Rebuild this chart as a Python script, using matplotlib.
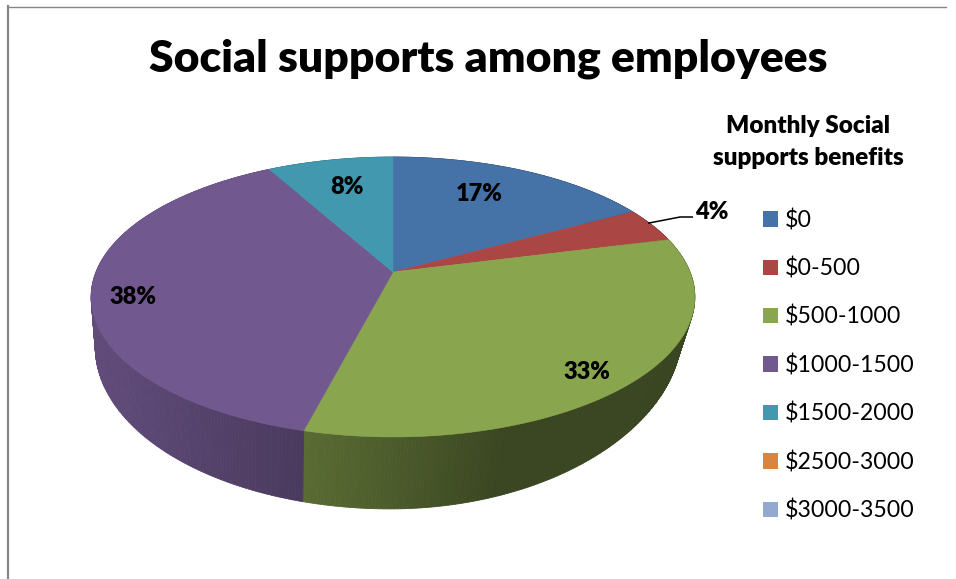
import numpy as np
import matplotlib
matplotlib.use('Agg')
import matplotlib.pyplot as plt
from matplotlib.patches import Patch, Polygon
from matplotlib.collections import PolyCollection

categories = ['$0', '$0-500', '$500-1000', '$1000-1500', '$1500-2000', '$2500-3000', '$3000-3500']
values = [17, 4, 33, 38, 8, 0, 0]
colors = ['#4572A7', '#AA4643', '#89A54E', '#71588F', '#4198AF', '#DB843D', '#93A9CF']
label_xy = [(479, 194), (712, 212), (587, 372), (133, 297), (347, 187)]

plt.rcParams['font.family'] = ['Lato', 'DejaVu Sans']

W, H = 956, 579
fig = plt.figure(figsize=(W / 100, H / 100), dpi=100)
ax = fig.add_axes([0, 0, 1, 1])
ax.set_xlim(0, W)
ax.set_ylim(H, 0)
ax.axis('off')

# perspective: the far side of a disc is squeezed by 1 + k*cos
k = 0.1786


def top_rim(theta, r=1.0):
    s, c = r * np.sin(theta), r * np.cos(theta)
    w = 1 + k * c
    return 393 + 297 * s / w, 272 - 135.5 * c / w


def bottom_rim(theta):
    s, c = np.sin(theta), np.cos(theta)
    w = 1 + k * c
    # front right of the lower edge sits a little further in
    skew = 25 * np.clip(s, 0, None) * np.clip(-c, 0, None)
    return 390 + 290 * s / w - skew, 318 - 156.8 * c / w


def wall_shade(x):
    return np.interp(x, [100, 300, 510, 700], [0.85, 0.66, 0.42, 0.42])


# walls first, slice by slice from the back, then the top face over them
edges = np.cumsum([0] + values) / sum(values) * 2 * np.pi
quads = []
quad_colors = []
for i in range(len(values)):
    if values[i] == 0:
        continue
    steps = np.linspace(edges[i], edges[i + 1], max(int(values[i] * 6), 2))
    base = np.array(matplotlib.colors.to_rgb(colors[i]))
    for a, b in zip(steps[:-1], steps[1:]):
        xa, ya = top_rim(a)
        xb, yb = top_rim(b)
        xc, yc = bottom_rim(b)
        xd, yd = bottom_rim(a)
        quads.append([(xa, ya), (xb, yb), (xc, yc), (xd, yd)])
        quad_colors.append(base * wall_shade((xa + xb) / 2))
ax.add_collection(PolyCollection(quads, facecolors=quad_colors, edgecolors=quad_colors, linewidths=0.6))

for i in range(len(values)):
    if values[i] == 0:
        continue
    t = np.linspace(edges[i], edges[i + 1], 200)
    x, y = top_rim(t)
    pts = np.column_stack([np.r_[393, x], np.r_[272, y]])
    ax.add_patch(Polygon(pts, closed=True, facecolor=colors[i], edgecolor=colors[i], linewidth=0.4))

# data labels, only for the slices that exist
shown = [v for v in values if v > 0]
for v, (lx, ly) in zip(shown, label_xy):
    ax.text(lx, ly, '%d%%' % v, fontsize=17, fontweight='heavy', ha='center', va='center', color='black')

# leader line for the small slice
mid = (edges[1] + edges[2]) / 2
rx, ry = top_rim(mid)
ax.plot([rx - 4, 680, 693], [ry - 2, 217, 217], color='black', lw=1.1, solid_capstyle='butt')

ax.text(488, 59, 'Social supports among employees', fontsize=32, fontweight='heavy', ha='center', va='center')
ax.text(808, 126, 'Monthly Social', fontsize=17.5, fontweight='heavy', ha='center', va='center')
ax.text(808, 158, 'supports benefits', fontsize=17.5, fontweight='heavy', ha='center', va='center')

handles = [Patch(facecolor=c, edgecolor='none') for c in colors]
fs = 16.7
ax.legend(handles, categories, loc='upper left', bbox_to_anchor=(763, 209), bbox_transform=ax.transData,
          frameon=False, fontsize=fs, borderpad=0, borderaxespad=0, labelspacing=1.14,
          handlelength=10.8 / fs, handleheight=10.8 / fs, handletextpad=5 / fs)

# chart frame, top and left only
ax.plot([8, 8], [6, H], color='#868686', lw=1.6)
ax.plot([8, 946], [6.5, 6.5], color='#868686', lw=1.0)

fig.savefig('out.png', dpi=100)
